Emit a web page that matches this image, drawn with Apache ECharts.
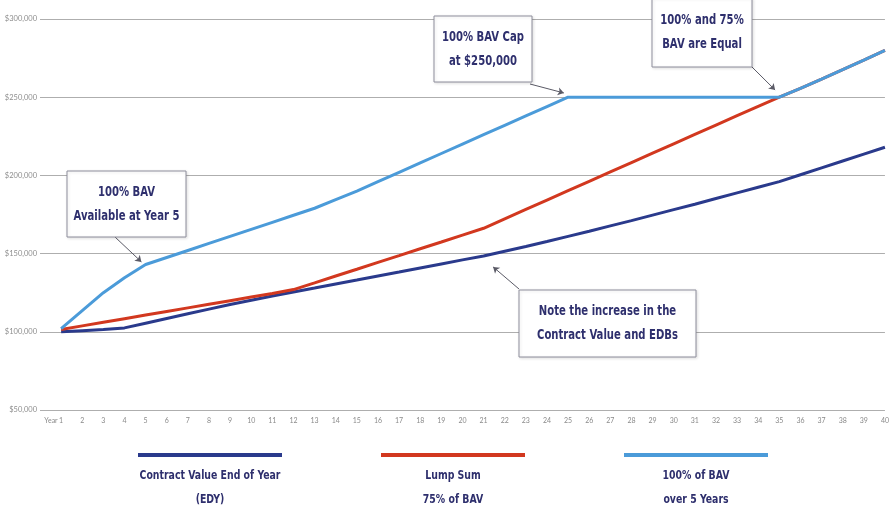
<!DOCTYPE html>
<html>
<head>
<meta charset="utf-8">
<script src="https://cdn.jsdelivr.net/npm/echarts@6/dist/echarts.min.js"></script>
<style>
  html, body { margin: 0; padding: 0; background: #ffffff; }
  #chart { width: 892px; height: 508px; }
</style>
</head>
<body>
<div id="chart"></div>
<script>
// Policy years on the horizontal axis
const years = [1, 2, 3, 4, 5, 6, 7, 8, 9, 10, 11, 12, 13, 14, 15, 16, 17, 18, 19, 20,
  21, 22, 23, 24, 25, 26, 27, 28, 29, 30, 31, 32, 33, 34, 35, 36, 37, 38, 39, 40];

// Contract value at end of year (EDY)
const contractValue = [100000, 100700, 101400, 102500, 105500, 108500, 111500, 114500, 117500, 120200,
  122900, 125500, 128000, 130600, 133100, 135700, 138200, 140800, 143400, 146000,
  148500, 151500, 154500, 157700, 161000, 164300, 167700, 171100, 174600, 178100,
  181600, 185200, 188800, 192400, 196000, 200400, 204800, 209200, 213600, 218000];

// Lump sum, 75% of BAV
const lumpSum75 = [101500, 103800, 106100, 108400, 110700, 113000, 115300, 117600, 119900, 122200,
  124500, 127000, 131300, 135700, 140000, 144400, 148700, 153100, 157400, 161800,
  166200, 172200, 178200, 184200, 190200, 196200, 202200, 208200, 214200, 220200,
  226200, 232200, 238200, 244200, 250000, 255700, 261600, 267600, 273700, 280000];

// 100% of BAV paid over 5 years (capped at $250,000)
const bav100 = [102000, 113500, 125000, 134500, 143000, 147500, 152000, 156500, 161000, 165500,
  170000, 174500, 179000, 184500, 190000, 196000, 202000, 208000, 214000, 220000,
  226000, 232000, 238000, 244000, 250000, 250000, 250000, 250000, 250000, 250000,
  250000, 250000, 250000, 250000, 250000, 255700, 261600, 267600, 273700, 280000];

// Value axis ticks
const yTicks = [50000, 100000, 150000, 200000, 250000, 300000];

const seriesNames = ['Contract Value End of Year (EDY)', 'Lump Sum 75% of BAV', '100% of BAV over 5 Years'];
const legendLines = [
  ['Contract Value End of Year', '(EDY)'],
  ['Lump Sum', '75% of BAV'],
  ['100% of BAV', 'over 5 Years']
];
const colors = ['#2a3a8c', '#d2381f', '#4b9bd9'];

const navy = '#2e2f6d';
const noteFont = "'DejaVu Sans Condensed', 'Liberation Sans Narrow', sans-serif";

const pairs = (vals) => years.map((yr, i) => [yr, vals[i]]);
const money = (v) => '$' + v.toLocaleString('en-US');

const chart = echarts.init(document.getElementById('chart'), null, { renderer: 'canvas' });

// Callout box with two lines of condensed bold text
function noteBox(x, y, w, h, lines) {
  return {
    type: 'group',
    x: x, y: y, z: 100,
    children: [
      {
        type: 'rect', z: 100,
        shape: { x: 0, y: 0, width: w, height: h },
        style: { fill: '#ffffff', stroke: '#8e8e9c', lineWidth: 1,
                 shadowBlur: 3, shadowColor: 'rgba(0,0,0,0.12)', shadowOffsetX: 1, shadowOffsetY: 1 }
      },
      {
        type: 'text', z: 101,
        x: w / 2, y: h / 2, scaleX: 0.8,
        style: {
          text: lines.join('\n'),
          fill: navy,
          font: 'bold 14px ' + noteFont,
          lineHeight: 24,
          align: 'center',
          verticalAlign: 'middle'
        }
      }
    ]
  };
}

// Legend entry: colour bar with a two-line caption underneath
function legendItem(cx, idx) {
  return {
    type: 'group',
    x: cx - 72, y: 449, z: 100,
    children: [
      { type: 'line', shape: { x1: 0, y1: 6, x2: 144, y2: 6 },
        style: { stroke: colors[idx], lineWidth: 4 } },
      { type: 'text', x: 72, y: 39, scaleX: 0.8,
        style: { text: legendLines[idx].join('\n'), fill: navy, font: 'bold 13px ' + noteFont,
                 lineHeight: 24, align: 'center', verticalAlign: 'middle' } }
    ]
  };
}

function arrow(from, toCoord) {
  return [
    { x: from[0], y: from[1], symbol: 'none' },
    { coord: toCoord, symbol: 'arrow', symbolSize: 6 }
  ];
}

const option = {
  backgroundColor: '#ffffff',
  animation: false,
  grid: { left: 40, right: 4, top: 19, bottom: 98, containLabel: false },
  xAxis: {
    type: 'value',
    min: 0, max: 40, interval: 1,
    axisLine: { show: false },
    axisTick: { show: false },
    splitLine: { show: false },
    axisLabel: {
      margin: 7,
      color: '#8a8a8a',
      fontSize: 7,
      fontFamily: 'Lato, sans-serif',
      showMaxLabel: true,
      formatter: (v) => v === 0 ? '{yr|Year}' : (Number.isInteger(v) ? String(v) : ''),
      rich: { yr: { fontSize: 7, color: '#8a8a8a', padding: [0, 0, 0, 22] } }
    }
  },
  yAxis: {
    type: 'value',
    min: yTicks[0], max: yTicks[yTicks.length - 1], interval: 50000,
    axisLine: { show: false },
    axisTick: { show: false },
    axisLabel: { margin: 3, color: '#8e8e8e', fontSize: 7.5, fontFamily: 'Lato, sans-serif', formatter: money },
    splitLine: { lineStyle: { color: '#aeaeae', width: 1.2 } }
  },
  series: [
    {
      name: seriesNames[0], type: 'line', data: pairs(contractValue),
      showSymbol: false, lineStyle: { color: colors[0], width: 3 }, itemStyle: { color: colors[0] }, z: 2
    },
    {
      name: seriesNames[1], type: 'line', data: pairs(lumpSum75),
      showSymbol: false, lineStyle: { color: colors[1], width: 3 }, itemStyle: { color: colors[1] }, z: 3
    },
    {
      name: seriesNames[2], type: 'line', data: pairs(bav100),
      showSymbol: false, lineStyle: { color: colors[2], width: 3 }, itemStyle: { color: colors[2] }, z: 4,
      markLine: {
        silent: true,
        animation: false,
        label: { show: false },
        lineStyle: { color: '#5a5a66', width: 1, type: 'solid' },
        symbolSize: 6,
        data: [
          arrow([115, 237], [4.8, 144700]),
          arrow([530, 84], [24.8, 252700]),
          arrow([752, 67], [34.8, 254600]),
          arrow([519, 289], [21.45, 141500])
        ]
      }
    }
  ],
  graphic: [
    noteBox(67, 171, 119, 66, ['100% BAV', 'Available at Year 5']),
    noteBox(434, 16, 98, 66, ['100% BAV Cap', 'at $250,000']),
    noteBox(652, -2, 100, 69, ['100% and 75%', 'BAV are Equal']),
    noteBox(519, 290, 177, 67, ['Note the increase in the', 'Contract Value and EDBs']),
    legendItem(210, 0),
    legendItem(453, 1),
    legendItem(696, 2)
  ]
};

chart.setOption(option);
</script>
</body>
</html>
